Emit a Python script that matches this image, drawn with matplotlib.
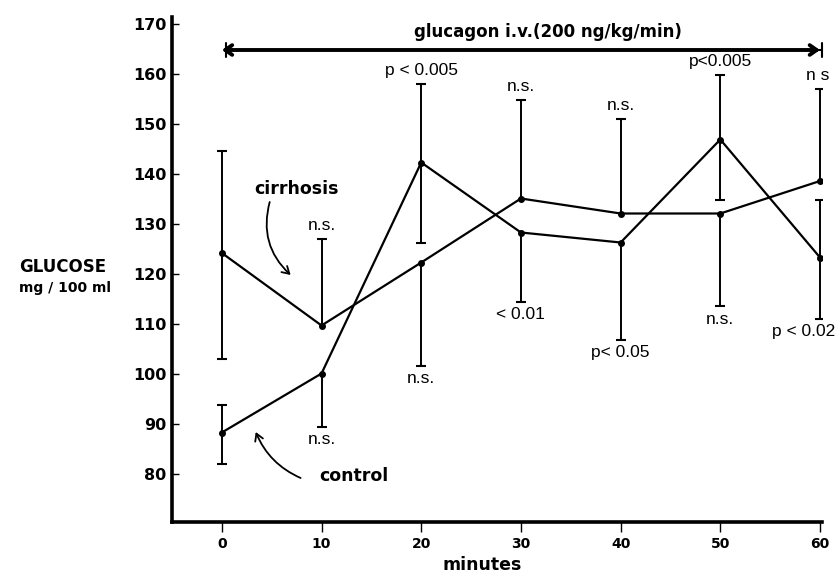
import numpy as np
import matplotlib
matplotlib.use("Agg")
import matplotlib.pyplot as plt

# ---- data ----
minutes = [0, 10, 20, 30, 40, 50, 60]
cirrhosis = [124.2, 109.7, 122.3, 135.1, 132.1, 132.1, 138.6]
cirr_low = [103.0, np.nan, 101.7, np.nan, np.nan, 113.6, np.nan]
cirr_high = [144.6, 127.0, np.nan, 154.9, 151.1, np.nan, 157.1]
control = [88.3, 100.1, 142.3, 128.3, 126.3, 146.9, 123.3]
ctrl_low = [82.0, 89.5, 126.3, 114.5, 106.9, 134.9, 111.1]
ctrl_high = [93.9, np.nan, 158.0, np.nan, np.nan, 159.8, 134.9]
labels_above = ["", "n.s.", "p < 0.005", "n.s.", "n.s.", "p<0.005", "n s"]
labels_below = ["", "n.s.", "n.s.", "< 0.01", "p< 0.05", "n.s.", "p < 0.02"]
yticks = [80, 90, 100, 110, 120, 130, 140, 150, 160, 170]
xticks = [0, 10, 20, 30, 40, 50, 60]
infusion_start, infusion_end, infusion_level = 0, 60, 164.8
infusion_text = "glucagon i.v.(200 ng/kg/min)"

narrow = ["Liberation Sans Narrow", "Liberation Sans", "DejaVu Sans"]
bold = dict(family="DejaVu Sans", fontweight="bold")

W, H = 838, 573
fig = plt.figure(figsize=(W / 100, H / 100), dpi=100)
ax = fig.add_axes([172 / W, 1 - 522 / H, 650 / W, 505 / H])
ax.set_xlim(-5, 60.2)
ax.set_ylim(70.4, 171.4)

for s in ["top", "right"]:
    ax.spines[s].set_visible(False)
for s in ["left", "bottom"]:
    ax.spines[s].set_linewidth(2.6)

ax.set_yticks(yticks)
ax.set_yticklabels([str(v) for v in yticks], **bold, fontsize=11.5)
ax.set_xticks(xticks)
ax.set_xticklabels([str(v) for v in xticks], **bold, fontsize=10)
ax.tick_params(axis="y", direction="in", length=5, width=1, pad=4)
ax.tick_params(axis="x", direction="out", length=7, width=1, pad=4)

x = np.array(minutes, dtype=float)


def draw(vals, lo, hi):
    vals = np.array(vals)
    ax.plot(x, vals, color="black", lw=1.6, marker="o", ms=4, zorder=3)
    for ends in (np.array(lo), np.array(hi)):
        m = ~np.isnan(ends)
        ax.vlines(x[m], vals[m], ends[m], color="black", lw=1.4, zorder=2)
        ax.plot(x[m], ends[m], linestyle="none", marker="_", ms=7, mew=1.5,
                color="black", zorder=2)


draw(cirrhosis, cirr_low, cirr_high)
draw(control, ctrl_low, ctrl_high)

# significance labels
tops = np.nanmax(np.vstack([cirr_high, ctrl_high, cirrhosis, control]), axis=0)
bots = np.nanmin(np.vstack([cirr_low, ctrl_low, cirrhosis, control]), axis=0)
for i, t in enumerate(minutes):
    last = i == len(minutes) - 1
    if labels_above[i]:
        ax.annotate(labels_above[i], (t, tops[i]), xytext=(-2 if last else 0, 4),
                    textcoords="offset points", ha="center", va="bottom",
                    family=narrow, fontsize=12.5)
    if labels_below[i]:
        ax.annotate(labels_below[i], (t, bots[i]), xytext=(-12 if last else 0, -4),
                    textcoords="offset points", ha="center", va="top",
                    family=narrow, fontsize=12.5)

# infusion arrow
ax.annotate("", xy=(infusion_end, infusion_level), xytext=(infusion_start, infusion_level),
            arrowprops=dict(arrowstyle="<->,head_length=0.5,head_width=0.35", lw=2.8,
                            color="black", shrinkA=0, shrinkB=0))
ax.annotate("", xy=(infusion_end + 0.2, infusion_level), xytext=(infusion_start + 0.4, infusion_level),
            arrowprops=dict(arrowstyle="|-|,widthA=0.5,widthB=0.5", lw=1.5,
                            color="black", shrinkA=0, shrinkB=0))
ax.text((infusion_start + infusion_end) / 2 + 2.7, 168.4, infusion_text,
        ha="center", va="center", fontsize=12, **bold)

# series labels with curved arrows
ax.text(7.5, 137.0, "cirrhosis", ha="center", va="center", fontsize=12.5, **bold)
ax.annotate("", xy=(6.9, 119.8), xytext=(4.8, 134.4),
            arrowprops=dict(arrowstyle="->,head_length=0.5,head_width=0.3", lw=1.3,
                            color="black", connectionstyle="arc3,rad=0.3",
                            shrinkA=0, shrinkB=0))
ax.text(13.2, 79.6, "control", ha="center", va="center", fontsize=12.5, **bold)
ax.annotate("", xy=(3.4, 88.4), xytext=(7.9, 79.2),
            arrowprops=dict(arrowstyle="->,head_length=0.5,head_width=0.3", lw=1.3,
                            color="black", connectionstyle="arc3,rad=-0.2",
                            shrinkA=0, shrinkB=0))

# axis titles
fig.text(63 / W, 1 - 267 / H, "GLUCOSE", ha="center", va="center", fontsize=12, **bold)
fig.text(65 / W, 1 - 288 / H, "mg / 100 ml", ha="center", va="center", fontsize=10, **bold)
fig.text(482 / W, 1 - 565 / H, "minutes", ha="center", va="center", fontsize=12.5, **bold)

fig.savefig("out.png", dpi=100)
